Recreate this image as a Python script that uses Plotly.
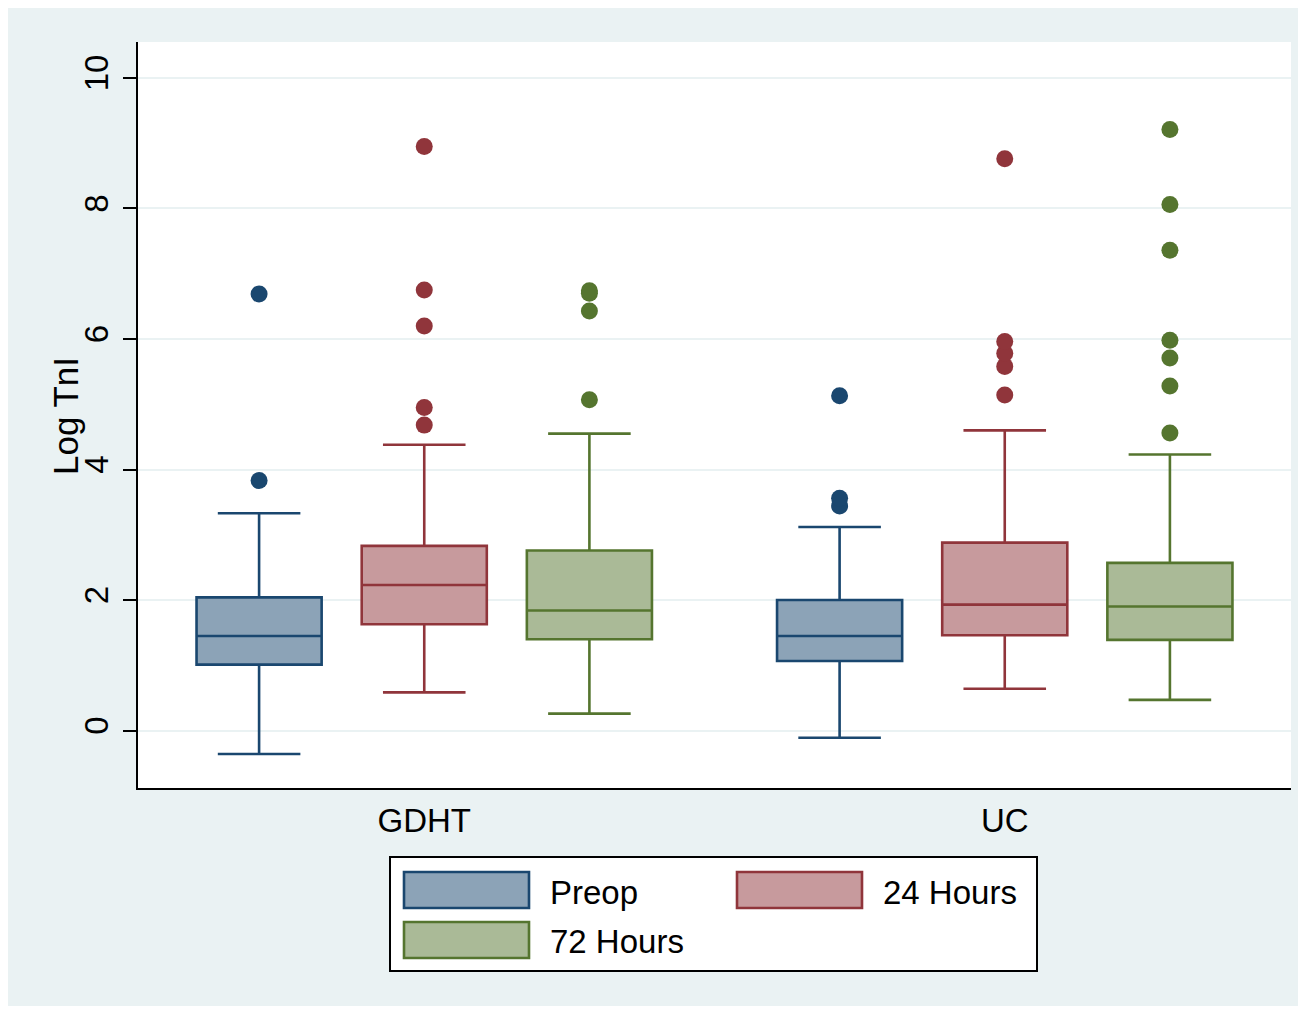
import plotly.graph_objects as go

# ---------------- data ----------------
groups = ["GDHT", "UC"]
series = ["Preop", "24 Hours", "72 Hours"]

preop_lower = [-0.36, -0.11]
preop_q1 = [1.01, 1.065]
preop_median = [1.45, 1.45]
preop_q3 = [2.04, 2.00]
preop_upper = [3.33, 3.12]
preop_out_gdht = [3.83, 6.69]
preop_out_uc = [3.44, 3.56, 5.13]

h24_lower = [0.585, 0.64]
h24_q1 = [1.63, 1.46]
h24_median = [2.23, 1.93]
h24_q3 = [2.83, 2.88]
h24_upper = [4.38, 4.60]
h24_out_gdht = [4.68, 4.95, 6.20, 6.75, 8.95]
h24_out_uc = [5.14, 5.58, 5.78, 5.96, 8.76]

h72_lower = [0.26, 0.47]
h72_q1 = [1.40, 1.39]
h72_median = [1.84, 1.90]
h72_q3 = [2.76, 2.57]
h72_upper = [4.55, 4.23]
h72_out_gdht = [5.07, 6.43, 6.70, 6.74]
h72_out_uc = [4.56, 5.28, 5.71, 5.98, 7.36, 8.06, 9.21]

y_ticks = [0, 2, 4, 6, 8, 10]
y_title = "Log TnI"

# ---------------- style ----------------
line_colors = ["#1A476F", "#90353B", "#55752F"]
fill_colors = ["#8CA3B7", "#C79A9D", "#AABA97"]
FONT = "Liberation Sans, Arial, Helvetica, sans-serif"
FS = 33

group_pos = [1, 2]
offsets = [-0.2845, 0.0, 0.2845]
box_w = 0.2155

stats = [
    (preop_lower, preop_q1, preop_median, preop_q3, preop_upper, [preop_out_gdht, preop_out_uc]),
    (h24_lower, h24_q1, h24_median, h24_q3, h24_upper, [h24_out_gdht, h24_out_uc]),
    (h72_lower, h72_q1, h72_median, h72_q3, h72_upper, [h72_out_gdht, h72_out_uc]),
]

fig = go.Figure()
for i, (lo, q1, med, q3, up, outs) in enumerate(stats):
    xs = [g + offsets[i] for g in group_pos]
    fig.add_trace(go.Box(
        x=xs, lowerfence=lo, q1=q1, median=med, q3=q3, upperfence=up,
        width=box_w, whiskerwidth=0.66, boxpoints=False,
        fillcolor=fill_colors[i], line=dict(color=line_colors[i], width=2.6),
        name=series[i], showlegend=False,
    ))
    ox, oy = [], []
    for gi, vals in enumerate(outs):
        ox += [xs[gi]] * len(vals)
        oy += vals
    fig.add_trace(go.Scatter(
        x=ox, y=oy, mode="markers",
        marker=dict(size=17, color=line_colors[i], line=dict(width=0)),
        showlegend=False, name=series[i],
    ))

# ---------------- layout ----------------
L, R, T, B = 138, 15, 42, 226
W, H = 1306, 1014
pw, ph = W - L - R, H - T - B


def px_x(px):
    return (px - L) / pw


def px_y(py):
    return (H - B - py) / ph


shapes = []
# white outer border
shapes.append(dict(type="rect", xref="paper", yref="paper",
                   x0=px_x(0), x1=px_x(W), y0=px_y(H), y1=px_y(0),
                   line=dict(color="white", width=16), fillcolor="rgba(0,0,0,0)", layer="above"))
# legend frame
shapes.append(dict(type="rect", xref="paper", yref="paper",
                   x0=px_x(390), x1=px_x(1037), y0=px_y(971), y1=px_y(857),
                   line=dict(color="black", width=2), fillcolor="white", layer="above"))
legend_items = [(404, 872, 0), (737, 872, 1), (404, 922, 2)]
annotations = []
for lx, ly, idx in legend_items:
    shapes.append(dict(type="rect", xref="paper", yref="paper",
                       x0=px_x(lx), x1=px_x(lx + 125), y0=px_y(ly + 36), y1=px_y(ly),
                       line=dict(color=line_colors[idx], width=2.6),
                       fillcolor=fill_colors[idx], layer="above"))
    annotations.append(dict(xref="paper", yref="paper", x=px_x(lx + 144), y=px_y(ly + 20),
                            text=series[idx], showarrow=False, xanchor="left", yanchor="middle",
                            font=dict(family=FONT, size=FS, color="black")))

# y-axis title
annotations.append(dict(xref="paper", yref="paper", x=px_x(65), y=px_y(416),
                        text=y_title, textangle=-90, showarrow=False,
                        xanchor="center", yanchor="middle",
                        font=dict(family=FONT, size=35, color="black")))

fig.update_layout(
    width=W, height=H,
    margin=dict(l=L, r=R, t=T, b=B),
    paper_bgcolor="#EAF2F3", plot_bgcolor="white",
    font=dict(family=FONT, size=FS, color="black"),
    shapes=shapes, annotations=annotations,
    showlegend=False,
)
fig.update_xaxes(
    range=[0.5069, 2.4931], tickmode="array", tickvals=group_pos, ticktext=groups,
    ticks="", showgrid=False, zeroline=False, showline=True, linecolor="black", linewidth=2,
    tickfont=dict(size=FS), ticklabelstandoff=2,
)
fig.update_yaxes(
    range=[-0.88, 10.55], tickmode="array", tickvals=y_ticks,
    ticks="outside", ticklen=13, tickwidth=2, tickcolor="black", tickangle=-90,
    showgrid=True, gridcolor="#EAF2F3", gridwidth=2, zeroline=False,
    showline=True, linecolor="black", linewidth=2,
    tickfont=dict(size=FS), ticklabelstandoff=2,
)

fig.write_html("out.html")
